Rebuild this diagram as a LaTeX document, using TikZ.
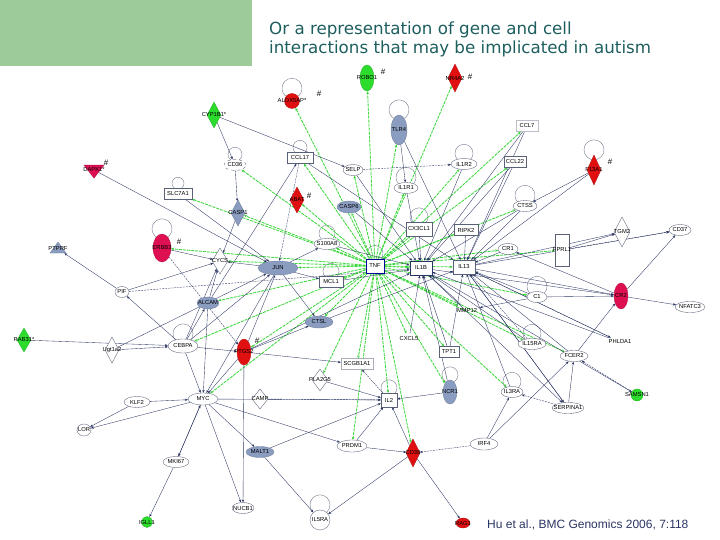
\documentclass[tikz,border=0pt]{standalone}
\usepackage{fontspec}
\newfontfamily\labf{Liberation Sans}
\newfontfamily\ttlf{DejaVu Sans}
\usetikzlibrary{shapes.geometric,arrows.meta}
\pgfdeclarelayer{edges}
\pgfsetlayers{edges,main}
\definecolor{hdrgreen}{HTML}{9DCB9A}
\definecolor{titlecol}{HTML}{1E5E5E}
\definecolor{nred}{HTML}{E01010}
\definecolor{ncrim}{HTML}{DE1052}
\definecolor{ngreen}{HTML}{2CDC2C}
\definecolor{nblue}{HTML}{8A9CBF}
\definecolor{nline}{HTML}{5A6075}
\definecolor{edark}{HTML}{2B3563}
\definecolor{egreen}{HTML}{3CD83C}
\tikzset{
  lab/.style={font=\labf\fontsize{5.8}{6.5}\selectfont, inner sep=0pt, text=black},
  base/.style={inner sep=0pt, draw=nline, line width=0.35pt, fill=white},
  ell/.style={base, ellipse, minimum width=#1, minimum height=11pt},
  ell/.default=24pt,
  box/.style={base, rectangle, minimum width=#1, minimum height=11pt},
  box/.default=22pt,
  dia/.style={base, diamond, minimum width=14pt, minimum height=26pt},
  redD/.style={dia, fill=nred, draw=nred!80!black},
  greenD/.style={dia, fill=ngreen, draw=ngreen!80!black},
  blueD/.style={dia, fill=nblue, draw=nblue!80!black},
  vell/.style={base, ellipse, minimum width=14pt, minimum height=26pt},
  redE/.style={vell, fill=nred, draw=nred!80!black},
  crimE/.style={vell, fill=ncrim, draw=ncrim!80!black},
  greenE/.style={vell, fill=ngreen, draw=ngreen!80!black},
  blueE/.style={base, ellipse, fill=nblue, draw=nblue!80!black, minimum width=#1, minimum height=12pt},
  blueE/.default=26pt,
  loopc/.style={draw=nline, line width=0.3pt, fill=none},
  hash/.style={font=\labf\fontsize{8}{8}\selectfont, inner sep=0pt, text=black},
  dk/.style={draw=edark, line width=0.35pt, -{Stealth[length=3pt,width=2.4pt]}},
  dkd/.style={dk, dash pattern=on 2pt off 1pt},
  gr/.style={draw=egreen, line width=0.85pt, dash pattern=on 3pt off 1pt, -{Stealth[length=3pt,width=2.6pt,fill=green!40!black]}},
}
\begin{document}
\begin{tikzpicture}[x=1pt,y=-1pt]
\useasboundingbox (0,0) rectangle (720,540);
\fill[hdrgreen] (0,0) rectangle (252,66);
\node[anchor=west, inner sep=0pt, text=titlecol, font=\ttlf\fontsize{16.7}{19}\selectfont] (T1) at (269,30) {Or a representation of gene and cell};
\node[anchor=west, inner sep=0pt, text=titlecol, font=\ttlf\fontsize{16.7}{19}\selectfont] (T2) at (269,49) {interactions that may be implicated in autism};
\node[anchor=west, inner sep=0pt, text=edark, font=\labf\fontsize{12}{13}\selectfont] (cite) at (487,525) {Hu et al., BMC Genomics 2006, 7:118};

% ---- nodes ----
\node[greenE, label={[lab]center:ROBO1}] (ROBO) at (367,78) {};
\node[redD, minimum height=28pt, label={[lab]center:NR4A2}] (NRA) at (455,78) {};
\node[base, circle, fill=nred, draw=nred!80!black, minimum size=15pt, label={[lab]center:ALOX5AP*}] (ALOX) at (292,101) {};
\node[greenD, label={[lab]center:CYP1B1*}] (CYP) at (214,115) {};
\node[blueE=16pt, minimum height=30pt, label={[lab]center:TLR4}] (TLR) at (399,130) {};
\node[box, draw=nline!40, label={[lab]center:CCL7}] (CCLs) at (527,126) {};
\node[box, label={[lab]center:CCL22}] (CCLtt) at (515,162) {};
\node[redD, minimum height=30pt, label={[lab]center:F13A1}] (FTA) at (594,170) {};
\node[base, isosceles triangle, shape border rotate=-90, isosceles triangle stretches, fill=ncrim, draw=ncrim!80!black, minimum width=20pt, minimum height=13pt, label={[lab]center:DAPK1*}] (DAPK) at (94,170) {};
\node[ell=22pt, dashed, label={[lab]center:CD36}] (CDts) at (235,165) {};
\node[box=26pt, label={[lab]center:CCL17}] (CCLst) at (300,158) {};
\node[ell=20pt, label={[lab]center:SELP}] (SELP) at (353,170) {};
\node[ell=26pt, label={[lab]center:IL1R2}] (ILRtwo) at (464,164) {};
\node[ell=24pt, label={[lab]center:IL1R1}] (ILRone) at (406,188) {};
\node[box=28pt, label={[lab]center:SLC7A1}] (SLC) at (178,194) {};
\node[blueD, label={[lab]center:CASP1}] (CASPa) at (238,213) {};
\node[redD, label={[lab]center:ABAT}] (ABAT) at (297,200) {};
\node[blueE=24pt, label={[lab]center:CASP6}] (CASPb) at (349,207) {};
\node[ell=24pt, label={[lab]center:CTSS}] (CTSS) at (525,206) {};
\node[box=26pt, minimum height=14pt, label={[lab]center:CX3CL1}] (CXC) at (419,229) {};
\node[box=24pt, label={[lab]center:RIPK2}] (RIPK) at (466,230) {};
\node[dia, minimum width=16pt, minimum height=30pt, label={[lab]center:TGM2}] (TGM) at (622,232) {};
\node[ell=22pt, label={[lab]center:CD37}] (CDtn) at (680,230) {};
\node[base, isosceles triangle, shape border rotate=90, isosceles triangle stretches, fill=nblue, draw=nblue!80!black, minimum width=16pt, minimum height=11pt, label={[lab]center:PTPRF}] (PTPRF) at (58,249) {};
\node[crimE, minimum width=18pt, minimum height=28pt, label={[lab]center:ERBB3}] (ERBB) at (162,248) {};
\node[dia, minimum width=16pt, minimum height=26pt, label={[lab]center:CYCS}] (CYCS) at (220,261) {};
\node[ell=26pt, label={[lab]center:S100A8}] (SHA) at (327,244) {};
\node[blueE=40pt, minimum height=14pt, label={[lab]center:JUN}] (JUN) at (278,268) {};
\node[base, rectangle, draw=blue!60!black, line width=1pt, minimum width=18pt, minimum height=14pt, label={[lab]center:TNF}] (TNF) at (375,266) {};
\node[box=22pt, draw=edark, line width=0.8pt, minimum height=14pt, label={[lab]center:IL1B}] (ILB) at (421,268) {};
\node[box=22pt, minimum height=14pt, label={[lab]center:IL13}] (ILth) at (464,267) {};
\node[ell=20pt, label={[lab]center:CR1}] (CRone) at (508,249) {};
\node[box=14pt, minimum height=32pt, label={[lab]center:FPRL1}] (FPRL) at (562,250) {};
\node[box=24pt, label={[lab]center:MCL1}] (MCL) at (331,282) {};
\node[ell=14pt, label={[lab]center:PIF}] (PIF) at (122,292) {};
\node[blueE=22pt, label={[lab]center:ALCAM}] (ALCAM) at (208,303) {};
\node[ell=20pt, label={[lab]center:C1}] (Cone) at (537,297) {};
\node[crimE, label={[lab]center:CR2}] (CRtwo) at (621,296) {};
\node[ell=30pt, label={[lab]center:NFATC3}] (NFAT) at (690,307) {};
\node[ell=28pt, draw=none, fill=none, label={[lab]center:MMP12}] (MMP) at (467,310) {};
\node[blueE=28pt, label={[lab]center:CTSL}] (CTSL) at (319,322) {};
\node[greenD, minimum height=24pt, label={[lab]center:RAB31*}] (RAB) at (24,340) {};
\node[dia, label={[lab]center:Ugt1a2}] (UGT) at (112,350) {};
\node[ell=30pt, minimum height=14pt, label={[lab]center:CEBPA}] (CEBPA) at (183,346) {};
\node[redE, label={[lab]center:PTGS2}] (PTGS) at (244,352) {};
\node[ell=26pt, draw=none, fill=none, label={[lab]center:CXCL5}] (CXCL) at (409,339) {};
\node[ell=28pt, label={[lab]center:IL15RA}] (ILfRA) at (532,344) {};
\node[ell=30pt, draw=none, fill=none, label={[lab]center:PHLDA1}] (PHL) at (620,342) {};
\node[box=20pt, label={[lab]center:TPT1}] (TPT) at (449,352) {};
\node[box=32pt, draw=nline!50, label={[lab]center:SCGB1A1}] (SCGB) at (357,364) {};
\node[dia, minimum width=16pt, minimum height=22pt, label={[lab]center:PLA2G5}] (PLA) at (320,380) {};
\node[ell=28pt, label={[lab]center:FCER2}] (FCER) at (574,356) {};
\node[ell=26pt, label={[lab]center:KLF2}] (KLF) at (137,402) {};
\node[ell=30pt, minimum height=12pt, label={[lab]center:MYC}] (MYC) at (203,399) {};
\node[dia, minimum width=16pt, minimum height=20pt, label={[lab]center:CAMP}] (CAMP) at (260,399) {};
\node[box=16pt, minimum height=14pt, label={[lab]center:IL2}] (ILtwo) at (389,400) {};
\node[blueE=14pt, minimum height=24pt, label={[lab]center:NCR1}] (NCR) at (450,392) {};
\node[ell=22pt, label={[lab]center:IL3RA}] (ILtRA) at (512,392) {};
\node[ell=32pt, label={[lab]center:SERPINA1}] (SERP) at (568,408) {};
\node[base, circle, fill=ngreen, draw=ngreen!80!black, minimum size=12pt, label={[lab]center:SAMSN1}] (SAM) at (637,395) {};
\node[ell=14pt, minimum height=12pt, label={[lab]center:LOR}] (LOR) at (84,430) {};
\node[blueE=28pt, minimum height=11pt, label={[lab]center:MALT1}] (MALT) at (260,452) {};
\node[ell=30pt, minimum height=12pt, label={[lab]center:PRDM1}] (PRDM) at (352,446) {};
\node[redD, minimum height=28pt, label={[lab]center:CD38}] (CDte) at (413,453) {};
\node[ell=28pt, minimum height=12pt, label={[lab]center:IRF4}] (IRF) at (484,444) {};
\node[ell=26pt, label={[lab]center:MKI67}] (MKI) at (176,462) {};
\node[ell=22pt, label={[lab]center:NUCB1}] (NUCB) at (243,508) {};
\node[ell=20pt, minimum height=20pt, label={[lab]center:IL5RA}] (ILfvRA) at (320,520) {};
\node[base, circle, fill=ngreen, draw=ngreen!80!black, minimum size=11pt, label={[lab]center:IGLL1}] (IGLL) at (147,522) {};
\node[base, ellipse, fill=nred, draw=nred!80!black, minimum width=14pt, minimum height=10pt, label={[lab]center:RAG1}] (RAG) at (463,523) {};

% hash marks
\node[hash] (h1) at (383,72) {\#};
\node[hash] (h2) at (470,77) {\#};
\node[hash] (h3) at (319,94) {\#};
\node[hash] (h4) at (106,163) {\#};
\node[hash] (h5) at (610,162) {\#};
\node[hash] (h6) at (309,196) {\#};
\node[hash] (h7) at (179,242) {\#};
\node[hash] (h8) at (257,341) {\#};

\begin{pgfonlayer}{edges}
% self loops
\foreach \n/\r in {ALOX/10pt, TLR/10pt, FTA/10pt, ILRtwo/9pt, ILRone/10pt, CTSS/10pt, ERBB/10pt, TNF/8pt, CEBPA/10pt, Cone/10pt, ILfRA/9pt, ILtRA/9pt, NCR/8pt, ILtwo/8pt, ILfvRA/10pt, CXC/9pt, CCLst/7pt, SLC/6pt, CDts/7pt, MCL/8pt, SHA/8pt}
  \draw[loopc] ([yshift=5pt]\n.north) circle[radius=\r];

% green edges from TNF
\foreach \t in {ALOX, ROBO, NRA, TLR, CCLs, CCLtt, CTSS, ILRtwo, ILRone, SELP, CCLst, CDts, SLC, CASPa, ABAT, CASPb, SHA, ERBB, CYCS, JUN, ALCAM, CEBPA, PTGS, MYC, CTSL, PLA, CXCL, ILtwo, NCR, CDte, PRDM, ILtRA, FCER, Cone, MMP, ILth, ILB, CRone, FPRL, CXC, RIPK, ILfRA, TPT, MCL, SCGB}
  \draw[gr] (TNF) -- (\t);

% dark edges
\foreach \a/\b in {CYP/CDts, CYP/SELP, DAPK/JUN, SLC/JUN, CDts/CASPa, CASPa/CYCS, ALCAM/CCLst, CCLst/ILth, ILRtwo/ILB, ILRone/ILB, TLR/ILRone, TLR/ILth, CCLs/ILth, CCLs/ILB, CCLtt/ILth, CCLtt/ILB, CTSS/ILth, CTSS/ILB, FTA/CTSS, FTA/ILth, CXC/ILB, RIPK/ILth, FPRL/TGM, ILth/TGM, ILth/CDtn, CRtwo/CDtn, CRtwo/NFAT, FCER/CRtwo, ILth/CRtwo, ILB/CRtwo, Cone/CRtwo, CRone/ILth, Cone/ILth, ILfRA/ILB, FCER/ILth, SERP/ILth, SERP/FCER, ILB/SAM, ILtRA/ILth, IRF/ILtRA, IRF/FCER, MMP/ILB, TPT/ILB, TPT/ILth, CXCL/ILB, NCR/ILtwo, NCR/ILB, PLA/ILtwo, PRDM/ILtwo, CDte/ILtwo, MALT/ILtwo, PRDM/CDte, MYC/PRDM, MALT/ILfvRA, CDte/ILfvRA, CDte/RAG, MYC/MKI, MKI/MYC, MKI/IGLL, KLF/MYC, KLF/LOR, MYC/LOR, MYC/NUCB, MYC/ILtwo, JUN/MYC, CEBPA/MYC, MYC/MALT, CEBPA/PIF, UGT/CEBPA, CEBPA/PTGS, CEBPA/ALCAM, CEBPA/CYCS, CEBPA/JUN, RAB/CEBPA, UGT/JUN, PIF/PTPRF, PIF/CYCS, ERBB/CYCS, ALCAM/CYCS, ALCAM/MYC, JUN/CYCS, JUN/SHA, JUN/MCL, JUN/CTSL, PTGS/JUN, PTGS/ILB, PTGS/CTSL, PTGS/SCGB, PTGS/MYC, PTGS/NUCB, CTSL/ILth, SHA/ILB, CASPb/ILB, MCL/ILB, SELP/ILB, PHL/ILB, CRtwo/CRone, Cone/MMP, ILth/SERP, ILB/SERP, ILth/PHL}
  \draw[dk] (\a) -- (\b);
\foreach \a/\b in {SELP/ILRtwo, SERP/ILtRA, CAMP/ILtwo, PIF/ILB, ERBB/PTGS, IRF/CDte, ILtwo/SCGB, FPRL/CDtn, CCLst/JUN, ILfRA/ILth, PHL/ILth, SAM/FCER}
  \draw[dkd] (\a) -- (\b);
\end{pgfonlayer}
\end{tikzpicture}
\end{document}
